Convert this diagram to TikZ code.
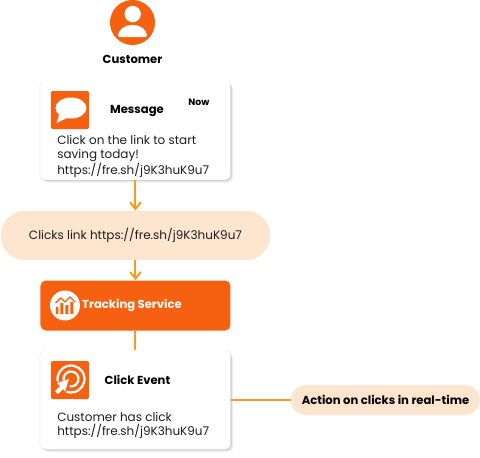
\documentclass[tikz,border=0pt]{standalone}
\usepackage{fontspec}
\setmainfont{Poppins}
\usetikzlibrary{arrows.meta, positioning, shadows}
\definecolor{fsorange}{RGB}{245, 97, 16}
\definecolor{fspeach}{RGB}{254, 229, 207}
\definecolor{fsline}{RGB}{245, 158, 28}
\definecolor{fstext}{RGB}{30, 30, 30}

\begin{document}
\begin{tikzpicture}[
    x=0.75pt, y=-0.75pt,
    softshadow/.style={drop shadow={opacity=0.1, shadow xshift=0pt, shadow yshift=-0.4pt, shadow scale=1.012}, drop shadow={opacity=0.09, shadow xshift=2.2pt, shadow yshift=-2.2pt}, drop shadow={opacity=0.1, shadow xshift=1.6pt, shadow yshift=-1.6pt}, drop shadow={opacity=0.12, shadow xshift=1pt, shadow yshift=-1pt}},
    card/.style={rectangle, rounded corners=4pt, fill=white, minimum width=142.5pt, minimum height=74pt, softshadow},
    pill/.style={rectangle, rounded corners=#1, fill=fspeach, inner sep=0pt},
    iconbox/.style={rectangle, rounded corners=1pt, fill=fsorange, minimum size=28.5pt, inner sep=0pt},
    arr/.style={-{Straight Barb[length=5pt, width=8pt]}, fsline, line width=1.5pt},
    lnk/.style={fsline, line width=1.5pt},
    body/.style={font=\fontsize{9}{10.9}\selectfont, text=fstext, align=left, inner sep=0pt},
    head/.style={font=\fontsize{8.7}{10}\selectfont\bfseries, text=black, inner sep=0pt}
]
\useasboundingbox (0, 0) rectangle (480, 458);

% Customer
\node[circle, fill=fsorange, minimum size=33.8pt, inner sep=0pt] (customer) at (132.5, 22.5) {};
\fill[white] (132.7, 14) circle (8.2);
\fill[white, rounded corners=1pt] (118, 37) -- (147, 37) to[out=90, in=0] (132.5, 25) to[out=180, in=90] (118, 37) -- cycle;
\node[head] (customerlabel) at (132.5, 59) {Customer};

% Message card
\node[card] (message) at (135.5, 130.5) {};
\node[iconbox] (msgicon) at (70, 110) {};
\fill[white] (71, 108) ellipse (15.5 and 10.5);
\fill[white] (60, 112) -- (56.5, 123) -- (69, 117) -- cycle;
\node[head] (msgtitle) at (137, 111) {Message};
\node[font=\fontsize{7}{8}\selectfont\bfseries, inner sep=0pt] (msgnow) at (199, 102.5) {Now};
\node[body, anchor=north west] (msgtext) at (57, 135) {Click on the link to start\\saving today!\\https://fre.sh/j9K3huK9u7};

% Clicks link
\node[pill=18pt, minimum width=202pt, minimum height=37pt, body] (clicks) at (135.5, 235.5) {Clicks link https://fre.sh/j9K3huK9u7};

% Tracking service
\node[rectangle, rounded corners=4pt, fill=fsorange, minimum width=142.5pt, minimum height=37.5pt] (tracking) at (135.5, 305.5) {};
\node[circle, fill=white, minimum size=22.5pt, inner sep=0pt] (trackicon) at (65, 305.5) {};
\fill[fsorange] (56, 307) rectangle (58.5, 314) (60.5, 303) rectangle (63.5, 314) (65.5, 305) rectangle (68.5, 314) (70.5, 302) rectangle (73.5, 314);
\draw[fsorange, line width=1pt] (55.5, 303) -- (61, 298) -- (65, 302) -- (70, 297) -- (75, 302);
\node[font=\fontsize{8.7}{10}\selectfont\bfseries, text=white, inner sep=0pt] (tracktitle) at (132, 305.5) {Tracking Service};

% Click event card
\node[card] (click) at (135.5, 400) {};
\node[iconbox] (clickicon) at (70, 380) {};
\draw[white, line width=1.7pt] (71, 379) ++(-190:13.5) arc[start angle=-190, end angle=110, radius=13.5];
\draw[white, line width=1.7pt] (71, 379) ++(-190:7.5) arc[start angle=-190, end angle=100, radius=7.5];
\fill[white] (69, 379) -- (57, 383) -- (60, 386) -- (55, 391) -- (58, 394) -- (63, 389) -- (65, 391.5) -- cycle;
\node[head] (clicktitle) at (137.5, 380) {Click Event};
\node[body, anchor=north west] (clicktext) at (57, 412) {Customer has click\\https://fre.sh/j9K3huK9u7};

% Action
\node[pill=11pt, minimum width=141.5pt, minimum height=22.5pt, head] (action) at (385.5, 400) {Action on clicks in real-time};

\draw[arr] (message) -- (clicks);
\draw[arr] (clicks) -- (tracking);
\draw[lnk] (tracking) -- (click);
\draw[lnk] (click) -- (action);

\end{tikzpicture}
\end{document}
